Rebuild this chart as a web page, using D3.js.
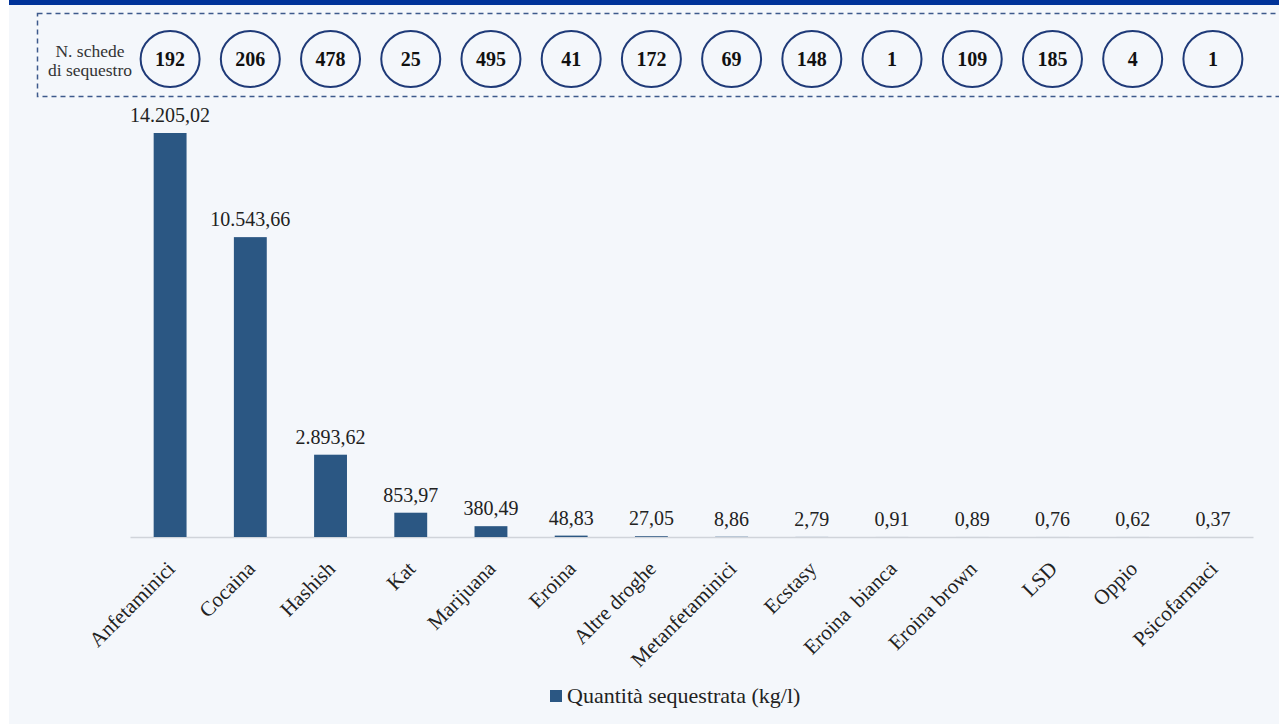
<!DOCTYPE html>
<html>
<head>
<meta charset="utf-8">
<script src="https://cdn.jsdelivr.net/npm/d3@7"></script>
<style>
  html, body { margin: 0; padding: 0; background: #ffffff; }
  svg { display: block; }
  .tick text { white-space: pre; }
</style>
</head>
<body>
<svg id="chart" width="1279" height="724"></svg>
<script>
const categories = ["Anfetaminici", "Cocaina", "Hashish", "Kat", "Marijuana", "Eroina", "Altre droghe", "Metanfetaminici", "Ecstasy", "Eroina  bianca", "Eroina brown", "LSD", "Oppio", "Psicofarmaci"];
const quantities = [14205.02, 10543.66, 2893.62, 853.97, 380.49, 48.83, 27.05, 8.86, 2.79, 0.91, 0.89, 0.76, 0.62, 0.37];
const seizureCounts = [192, 206, 478, 25, 495, 41, 172, 69, 148, 1, 109, 185, 4, 1];
const headerLines = ["N. schede", "di sequestro"];
const seriesName = "Quantità sequestrata (kg/l)";

const W = 1279, H = 724;
const svg = d3.select("#chart");
const serif = "'Liberation Serif', 'DejaVu Serif', serif";
const barColor = "#2b5783";
const navy = "#1f3a78";

// background
svg.append("rect").attr("x", 0).attr("y", 0).attr("width", W).attr("height", H).attr("fill", "#ffffff");
svg.append("rect").attr("x", 9).attr("y", 0).attr("width", W - 9).attr("height", H).attr("fill", "#f4f7fb");
svg.append("rect").attr("x", 9).attr("y", 0).attr("width", W - 9).attr("height", 5).attr("fill", "#003399");

const it = d3.formatLocale({decimal: ",", thousands: ".", grouping: [3], currency: ["€", ""]});
const fmt = it.format(",.2f");

const x = d3.scaleBand().domain(categories).range([130, 1253]).paddingInner(0.59).paddingOuter(0.295);
const y = d3.scaleLinear().domain([0, 14205.02]).range([537, 133]);

// dashed header box
svg.append("rect")
  .attr("x", 37.5).attr("y", 13.5).attr("width", 1300).attr("height", 83)
  .attr("fill", "none").attr("stroke", "#3d5a8c").attr("stroke-width", 1.5)
  .attr("stroke-dasharray", "5,4");

const header = svg.append("text")
  .attr("x", 90).attr("y", 57).attr("text-anchor", "middle")
  .attr("font-family", serif).attr("font-size", 17.5).attr("fill", "#333");
headerLines.forEach((l, i) => header.append("tspan").attr("x", 90).attr("dy", i === 0 ? 0 : 19).text(l));

const circ = svg.append("g");
circ.selectAll("ellipse").data(categories).join("ellipse")
  .attr("cx", d => x(d) + x.bandwidth() / 2)
  .attr("cy", 59)
  .attr("rx", 29.5).attr("ry", 28)
  .attr("fill", "none").attr("stroke", navy).attr("stroke-width", 2);
circ.selectAll("text").data(categories).join("text")
  .attr("x", d => x(d) + x.bandwidth() / 2)
  .attr("y", 66)
  .attr("text-anchor", "middle")
  .attr("font-family", serif).attr("font-weight", "bold").attr("font-size", 20).attr("fill", "#111")
  .text((d, i) => seizureCounts[i]);

// axis
const xAxis = svg.append("g").attr("transform", "translate(0,537)")
  .call(d3.axisBottom(x).tickSize(0).tickSizeOuter(0).tickPadding(0));
xAxis.select(".domain").attr("stroke", "#d0d4da").attr("stroke-width", 1.5);
xAxis.selectAll(".tick text")
  .attr("font-family", serif).attr("font-size", 21).attr("fill", "#222")
  .attr("text-anchor", "end")
  .attr("dy", 0)
  .attr("transform", "translate(6,33) rotate(-45)");

// bars
svg.append("g").selectAll("rect").data(categories).join("rect")
  .attr("x", d => x(d))
  .attr("width", x.bandwidth())
  .attr("y", (d, i) => y(quantities[i]))
  .attr("height", (d, i) => y(0) - y(quantities[i]))
  .attr("fill", barColor);

// value labels
svg.append("g").selectAll("text").data(categories).join("text")
  .attr("x", d => x(d) + x.bandwidth() / 2)
  .attr("y", (d, i) => y(quantities[i]) - 11)
  .attr("text-anchor", "middle")
  .attr("font-family", serif).attr("font-size", 20).attr("fill", "#222")
  .text((d, i) => fmt(quantities[i]));

// legend
const lg = svg.append("g");
lg.append("rect").attr("x", 550).attr("y", 690).attr("width", 12).attr("height", 12).attr("fill", barColor);
lg.append("text").attr("x", 567).attr("y", 703)
  .attr("font-family", serif).attr("font-size", 22).attr("fill", "#222")
  .text(seriesName);
</script>
</body>
</html>
